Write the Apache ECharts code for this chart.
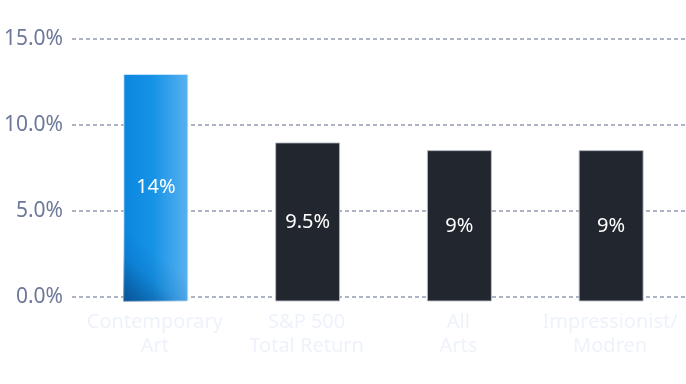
<!DOCTYPE html>
<html lang="en">
<head>
  <meta charset="UTF-8">
  <title>Art returns</title>
  <script src="https://cdn.jsdelivr.net/npm/echarts@6.0.0/dist/echarts.min.js"></script>
  <style>
    body { margin: 0; background: #ffffff; }
    #chart { width: 686px; height: 384px; }
  </style>
</head>
<body>
  <div id="chart"></div>
  <script>
    // data
    const categories = ['Contemporary\nArt', 'S&P 500\nTotal Return', 'All\nArts', 'Impressionist/\nModren'];
    // bar heights in % as measured from the bar base, which sits a little below the 0% line
    const barHeights = [13.23, 9.25, 8.8, 8.8];
    const barLabels = ['14%', '9.5%', '9%', '9%'];
    const yTicks = [0, 5, 10, 15];

    const chart = echarts.init(document.getElementById('chart'));

    // horizontal blue gradient, plus a darker shade in the lower left corner
    const blueFill = new echarts.graphic.LinearGradient(0, 0, 1, 0, [
      { offset: 0, color: '#0c86e0' },
      { offset: 0.45, color: '#1593e6' },
      { offset: 1, color: '#5ab1f1' }
    ]);
    const cornerShade = new echarts.graphic.LinearGradient(0, 1, 0.6, 0.8, [
      { offset: 0, color: 'rgba(6,70,130,0.8)' },
      { offset: 0.6, color: 'rgba(6,70,130,0.15)' },
      { offset: 1, color: 'rgba(6,70,130,0)' }
    ]);

    chart.setOption({
      animation: false,
      textStyle: { fontFamily: 'Noto Sans' },
      grid: [
        // percent axis with the dashed lines
        { left: 72, right: 0, top: 39, bottom: 87 },
        // bars, same scale, base 4.5px lower
        { left: 79, right: 0, top: 39, bottom: 82.5 }
      ],
      xAxis: [
        { type: 'category', gridIndex: 0, data: categories, show: false },
        {
          type: 'category', gridIndex: 1, data: categories,
          axisLine: { show: false },
          axisTick: { show: false },
          axisLabel: {
            color: '#eef2fb', fontSize: 20, lineHeight: 24, margin: 9,
            interval: 0
          }
        }
      ],
      yAxis: [
        {
          type: 'value', gridIndex: 0, min: yTicks[0], max: yTicks[yTicks.length - 1], interval: 5,
          axisLine: { show: false },
          axisTick: { show: false },
          axisLabel: {
            color: '#6d7898', fontSize: 21, margin: 9,
            formatter: v => v.toFixed(1) + '%'
          },
          splitLine: { lineStyle: { color: '#aeb3c6', width: 2, type: [4, 3] } }
        },
        { type: 'value', gridIndex: 1, min: 0, max: 15.26, show: false }
      ],
      series: [{
        type: 'bar',
        xAxisIndex: 1,
        yAxisIndex: 1,
        barWidth: 65,
        data: barHeights.map((v, i) => ({
          value: v,
          itemStyle: {
            color: i === 0 ? blueFill : '#22262f',
            borderColor: i === 0 ? 'rgba(220,235,250,0.8)' : 'rgba(190,194,205,0.9)',
            borderWidth: 1
          },
          label: { formatter: barLabels[i] }
        })),
        label: {
          show: true,
          position: 'inside',
          color: '#ffffff',
          fontSize: 20
        }
      }, {
        // shading overlay on the first bar only
        type: 'bar',
        xAxisIndex: 1,
        yAxisIndex: 1,
        barWidth: 63,
        barGap: '-100%',
        silent: true,
        data: barHeights.map((v, i) => i === 0 ? v : '-'),
        itemStyle: { color: cornerShade }
      }]
    });
  </script>
</body>
</html>
